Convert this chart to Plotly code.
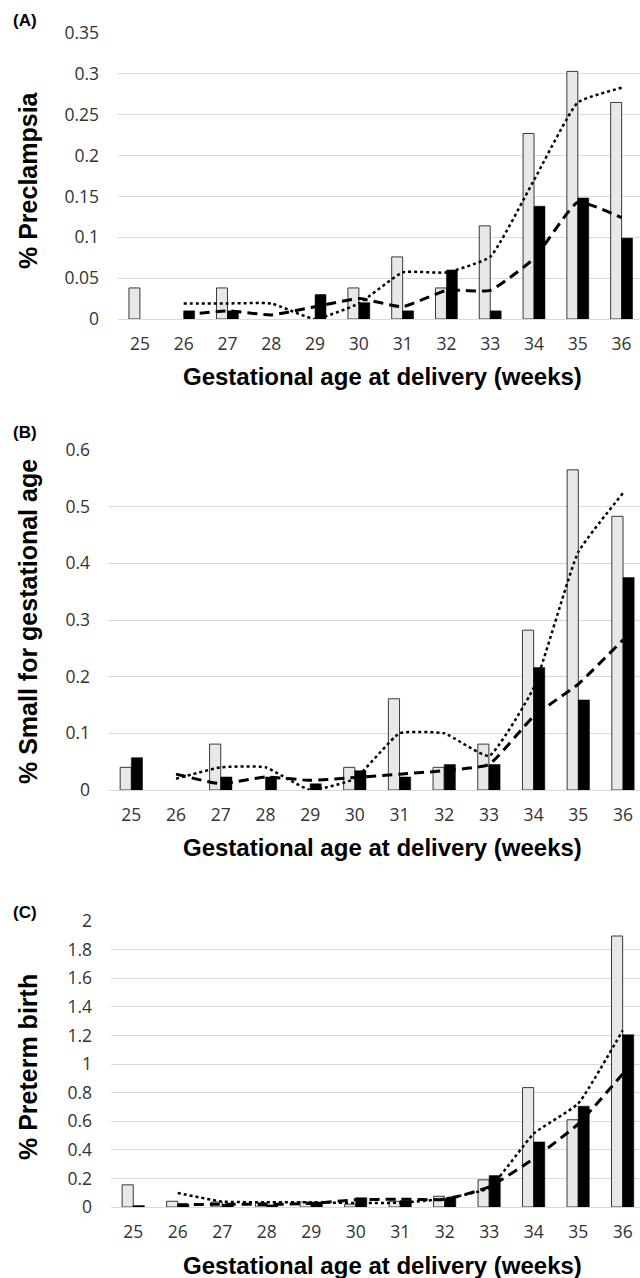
import plotly.graph_objects as go

weeks = [25, 26, 27, 28, 29, 30, 31, 32, 33, 34, 35, 36]
trend_weeks = [26, 27, 28, 29, 30, 31, 32, 33, 34, 35, 36]

# Panel A: % Preclampsia
a_light = [0.038, None, 0.038, None, None, 0.038, 0.076, 0.038, 0.114, 0.227, 0.303, 0.265]
a_dark = [None, 0.01, 0.01, None, 0.03, 0.02, 0.01, 0.06, 0.01, 0.138, 0.148, 0.099]
a_dotted = [0.019, 0.019, 0.019, 0.0, 0.019, 0.057, 0.057, 0.076, 0.17, 0.265, 0.283]
a_dashed = [0.005, 0.01, 0.005, 0.015, 0.025, 0.015, 0.035, 0.035, 0.074, 0.143, 0.124]

# Panel B: % Small for gestational age
b_light = [0.04, None, 0.081, None, None, 0.04, 0.161, 0.04, 0.081, 0.282, 0.565, 0.483]
b_dark = [0.057, None, 0.023, 0.023, 0.011, 0.034, 0.023, 0.045, 0.045, 0.216, 0.159, 0.375]
b_dotted = [0.02, 0.04, 0.04, 0.0, 0.02, 0.1, 0.1, 0.06, 0.18, 0.42, 0.524]
b_dashed = [0.028, 0.011, 0.023, 0.017, 0.022, 0.028, 0.034, 0.045, 0.13, 0.187, 0.265]

# Panel C: % Preterm birth
c_light = [0.155, 0.04, 0.035, 0.03, 0.035, 0.02, 0.04, 0.075, 0.19, 0.835, 0.61, 1.895]
c_dark = [0.01, 0.02, 0.02, 0.015, 0.035, 0.065, 0.045, 0.06, 0.22, 0.455, 0.705, 1.205]
c_dotted = [0.098, 0.038, 0.033, 0.033, 0.028, 0.03, 0.058, 0.133, 0.513, 0.723, 1.235]
c_dashed = [0.015, 0.02, 0.018, 0.025, 0.05, 0.055, 0.053, 0.14, 0.338, 0.58, 0.93]

panels = [
    dict(light=a_light, dark=a_dark, dotted=a_dotted, dashed=a_dashed,
         ytitle="% Preclampsia", label="(A)", ymax=0.35, dtick=0.05,
         xdom=(118 / 640, 1.0), xmax=36.42, ybot=319, ytop=33,
         ytitle_y=180, xtitle_y=377, label_y=20),
    dict(light=b_light, dark=b_dark, dotted=b_dotted, dashed=b_dashed,
         ytitle="% Small for gestational age", label="(B)", ymax=0.6, dtick=0.1,
         xdom=(109 / 640, 1.0), xmax=36.38, ybot=790, ytop=450,
         ytitle_y=622, xtitle_y=847, label_y=432),
    dict(light=c_light, dark=c_dark, dotted=c_dotted, dashed=c_dashed,
         ytitle="% Preterm birth", label="(C)", ymax=2.0, dtick=0.2,
         xdom=(111 / 640, 1.0), xmax=36.39, ybot=1207, ytop=921,
         ytitle_y=1067, xtitle_y=1265, label_y=912),
]

H = 1278
fig = go.Figure()
annotations = []
layout = {}
tick_font = dict(family="Open Sans, Noto Sans, sans-serif", size=17.5, color="#333333")
ytitle_font = dict(family="Liberation Sans, Arial, sans-serif", size=25, color="#000000")
xtitle_font = dict(family="Liberation Sans, Arial, sans-serif", size=24, color="#000000")

for i, p in enumerate(panels):
    n = "" if i == 0 else str(i + 1)
    xa, ya = "x" + n, "y" + n
    fig.add_trace(go.Bar(x=weeks, y=p["light"], xaxis=xa, yaxis=ya,
                         marker=dict(color="#e8e8e8", line=dict(color="#3a3a3a", width=1)),
                         showlegend=False, offsetgroup="l"))
    fig.add_trace(go.Bar(x=weeks, y=p["dark"], xaxis=xa, yaxis=ya,
                         marker=dict(color="#000000", line=dict(color="#000000", width=0.5)),
                         showlegend=False, offsetgroup="d"))
    fig.add_trace(go.Scatter(x=trend_weeks, y=p["dotted"], xaxis=xa, yaxis=ya, mode="lines",
                             line=dict(color="#000000", width=2.5, dash="dot", shape="spline", smoothing=0.4),
                             showlegend=False))
    fig.add_trace(go.Scatter(x=trend_weeks, y=p["dashed"], xaxis=xa, yaxis=ya, mode="lines",
                             line=dict(color="#000000", width=3, dash="10px,6px", shape="spline", smoothing=0.4),
                             showlegend=False))
    ydom = (1 - p["ybot"] / H, 1 - p["ytop"] / H)
    layout["xaxis" + n] = dict(domain=list(p["xdom"]), range=[24.5, p["xmax"]], anchor=ya,
                               tickmode="array", tickvals=weeks, ticktext=[str(w) for w in weeks],
                               showgrid=False, zeroline=False, showline=False, ticks="",
                               tickfont=tick_font, ticklabelstandoff=12, fixedrange=True,
                               automargin=False)
    layout["yaxis" + n] = dict(domain=list(ydom), range=[0, p["ymax"]], anchor=xa,
                               dtick=p["dtick"], tick0=0, showgrid=True, gridcolor="#d9d9d9",
                               gridwidth=1.2, zeroline=True, zerolinecolor="#d9d9d9", zerolinewidth=1.2,
                               showline=False, ticks="", tickfont=tick_font, ticklabelstandoff=18,
                               fixedrange=True, automargin=False)
    annotations.append(dict(text="<b>" + p["ytitle"] + "</b>", xref="paper", yref="paper",
                            x=28 / 640, y=1 - p["ytitle_y"] / H, textangle=-90, showarrow=False,
                            font=ytitle_font, xanchor="center", yanchor="middle"))
    annotations.append(dict(text="<b>Gestational age at delivery (weeks)</b>", xref="paper", yref="paper",
                            x=382 / 640, y=1 - p["xtitle_y"] / H, showarrow=False,
                            font=xtitle_font, xanchor="center", yanchor="middle"))
    annotations.append(dict(text="<b>" + p["label"] + "</b>", xref="paper", yref="paper",
                            x=25 / 640, y=1 - p["label_y"] / H, showarrow=False,
                            font=dict(family="Liberation Sans, Arial, sans-serif", size=17, color="#000"),
                            xanchor="center", yanchor="middle"))

fig.update_layout(**layout)
fig.update_layout(width=640, height=H, margin=dict(l=0, r=0, t=0, b=0, autoexpand=False),
                  paper_bgcolor="#ffffff", plot_bgcolor="#ffffff",
                  barmode="group", bargap=0.5, bargroupgap=0,
                  annotations=annotations, showlegend=False)

fig.write_html("out.html", config={"displayModeBar": False},
               post_script="document.body.style.margin='0';document.body.style.padding='0';"
                           "document.body.style.overflow='hidden';"
                           "document.documentElement.style.overflow='hidden';")
